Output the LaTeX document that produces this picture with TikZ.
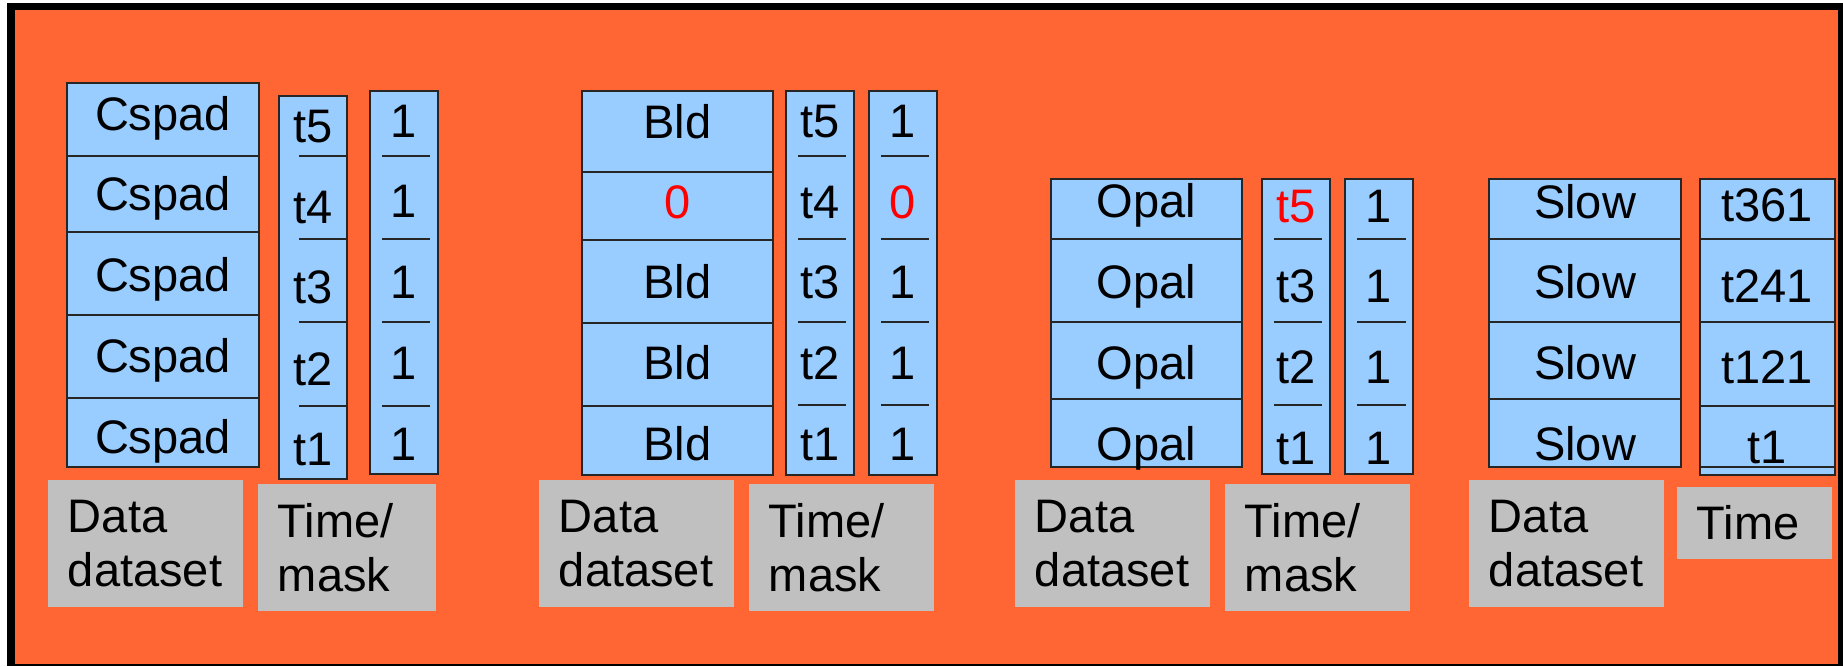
\documentclass[tikz,border=0pt]{standalone}
\usepackage{fontspec}
\setmainfont{Liberation Sans}
\usepackage{tikz}
\usetikzlibrary{positioning,calc}
\definecolor{fond}{RGB}{255,102,51}
\definecolor{bleu}{RGB}{153,204,255}
\definecolor{gris}{RGB}{192,192,192}
\definecolor{rouge}{RGB}{255,0,0}

\begin{document}
\begin{tikzpicture}[x=0.01cm,y=-0.01cm]
\tikzstyle{bloc}=[fill=bleu,draw=black!85,line width=0.45pt]
\tikzstyle{trait}=[draw=black!85,line width=0.4pt]
\tikzstyle{texte}=[anchor=base,inner sep=0pt,font=\fontsize{13.37}{15.36}\selectfont]
\tikzstyle{etiquette}=[fill=gris,align=left,inner xsep=0.2cm,inner ysep=0pt,font=\fontsize{13.37}{15.36}\selectfont]
\def\Rouge{\color{rouge}}
\useasboundingbox (0,0) rectangle (1843,666);
\fill[black] (7,3) rectangle (1843,666);
\fill[fond] (15,10) rectangle (1838,664);
% Cspad
\draw[bloc] (67,83) rectangle (259,467);
\draw[trait] (67,156) -- (259,156) (67,232) -- (259,232) (67,315) -- (259,315) (67,398) -- (259,398);
\draw[bloc] (279,96) rectangle (347,479);
\draw[trait] (299,156) -- (347,156) (299,239) -- (347,239) (299,322) -- (347,322) (299,406) -- (347,406);
\draw[bloc] (370,91) rectangle (438,474);
\draw[trait] (382,156) -- (430,156) (382,239) -- (430,239) (382,322) -- (430,322) (382,406) -- (430,406);
\node[texte] (Ca) at (163,130) {Cspad};
\node[texte] (Cb) at (163,210) {Cspad};
\node[texte] (Cc) at (163,291) {Cspad};
\node[texte] (Cd) at (163,372) {Cspad};
\node[texte] (Ce) at (163,453) {Cspad};
\node[texte] (CTa) at (313,142) {t5};
\node[texte] (CTb) at (313,223) {t4};
\node[texte] (CTc) at (313,303) {t3};
\node[texte] (CTd) at (313,385) {t2};
\node[texte] (CTe) at (313,465) {t1};
\node[texte] (CMa) at (404,137) {1};
\node[texte] (CMb) at (404,217) {1};
\node[texte] (CMc) at (404,298) {1};
\node[texte] (CMd) at (404,379) {1};
\node[texte] (CMe) at (404,460) {1};
\node[etiquette,text width=1.55cm,minimum height=1.27cm] (CD) at (145.5,543.5) {Data\\dataset};
\node[etiquette,text width=1.38cm,minimum height=1.27cm] (CT) at (347,547.5) {Time/\\mask};
% Bld
\draw[bloc] (582,91) rectangle (773,475);
\draw[trait] (582,172) -- (773,172) (582,240) -- (773,240) (582,323) -- (773,323) (582,406) -- (773,406);
\draw[bloc] (786,91) rectangle (854,475);
\draw[trait] (798,156) -- (846,156) (798,239) -- (846,239) (798,322) -- (846,322) (798,405) -- (846,405);
\draw[bloc] (869,91) rectangle (937,475);
\draw[trait] (881,156) -- (929,156) (881,239) -- (929,239) (881,322) -- (929,322) (881,405) -- (929,405);
\node[texte] (Ba) at (677.5,138) {Bld};
\node[texte] (Bb) at (677.5,218) {\Rouge 0};
\node[texte] (Bc) at (677.5,298) {Bld};
\node[texte] (Bd) at (677.5,379) {Bld};
\node[texte] (Be) at (677.5,460) {Bld};
\node[texte] (BTa) at (820,137) {t5};
\node[texte] (BTb) at (820,218) {t4};
\node[texte] (BTc) at (820,298) {t3};
\node[texte] (BTd) at (820,379) {t2};
\node[texte] (BTe) at (820,460) {t1};
\node[texte] (BMa) at (903,137) {1};
\node[texte] (BMb) at (903,218) {\Rouge 0};
\node[texte] (BMc) at (903,298) {1};
\node[texte] (BMd) at (903,379) {1};
\node[texte] (BMe) at (903,460) {1};
\node[etiquette,text width=1.55cm,minimum height=1.27cm] (BD) at (636.5,543.5) {Data\\dataset};
\node[etiquette,text width=1.45cm,minimum height=1.27cm] (BT) at (841.5,547.5) {Time/\\mask};
% Opal
\draw[bloc] (1051,179) rectangle (1242,467);
\draw[trait] (1051,239) -- (1242,239) (1051,322) -- (1242,322) (1051,399) -- (1242,399);
\draw[bloc] (1262,179) rectangle (1330,474);
\draw[trait] (1274,239) -- (1322,239) (1274,322) -- (1322,322) (1274,405) -- (1322,405);
\draw[bloc] (1345,179) rectangle (1413,474);
\draw[trait] (1357,239) -- (1406,239) (1357,322) -- (1406,322) (1357,405) -- (1406,405);
\node[texte] (Oa) at (1146.5,217) {Opal};
\node[texte] (Ob) at (1146.5,298) {Opal};
\node[texte] (Oc) at (1146.5,379) {Opal};
\node[texte] (Od) at (1146.5,460) {Opal};
\node[texte] (OTa) at (1296,222) {\Rouge t5};
\node[texte] (OTb) at (1296,302) {t3};
\node[texte] (OTc) at (1296,383) {t2};
\node[texte] (OTd) at (1296,464) {t1};
\node[texte] (OMa) at (1379,222) {1};
\node[texte] (OMb) at (1379,302) {1};
\node[texte] (OMc) at (1379,383) {1};
\node[texte] (OMd) at (1379,464) {1};
\node[etiquette,text width=1.55cm,minimum height=1.27cm] (OD) at (1112.5,543.5) {Data\\dataset};
\node[etiquette,text width=1.45cm,minimum height=1.27cm] (OT) at (1317.5,547.5) {Time/\\mask};
% Slow
\draw[bloc] (1489,179) rectangle (1681,467);
\draw[trait] (1489,239) -- (1681,239) (1489,322) -- (1681,322) (1489,399) -- (1681,399);
\draw[bloc] (1700,179) rectangle (1835,475);
\draw[trait] (1700,239) -- (1835,239) (1700,322) -- (1835,322) (1700,406) -- (1835,406) (1700,467) -- (1835,467);
\draw[trait,line width=0.8pt] (1713,322) -- (1761,322) (1713,406) -- (1761,406);
\node[texte] (Sa) at (1585,218) {Slow};
\node[texte] (Sb) at (1585,298) {Slow};
\node[texte] (Sc) at (1585,379) {Slow};
\node[texte] (Sd) at (1585,460) {Slow};
\node[texte] (STa) at (1767,221) {t361};
\node[texte] (STb) at (1767,302) {t241};
\node[texte] (STc) at (1767,383) {t121};
\node[texte] (STd) at (1767,463) {t1};
\node[etiquette,text width=1.55cm,minimum height=1.27cm] (SD) at (1566.5,543.5) {Data\\dataset};
\node[etiquette,text width=1.15cm,minimum height=0.72cm] (ST) at (1754.5,523) {Time};
\end{tikzpicture}
\end{document}
